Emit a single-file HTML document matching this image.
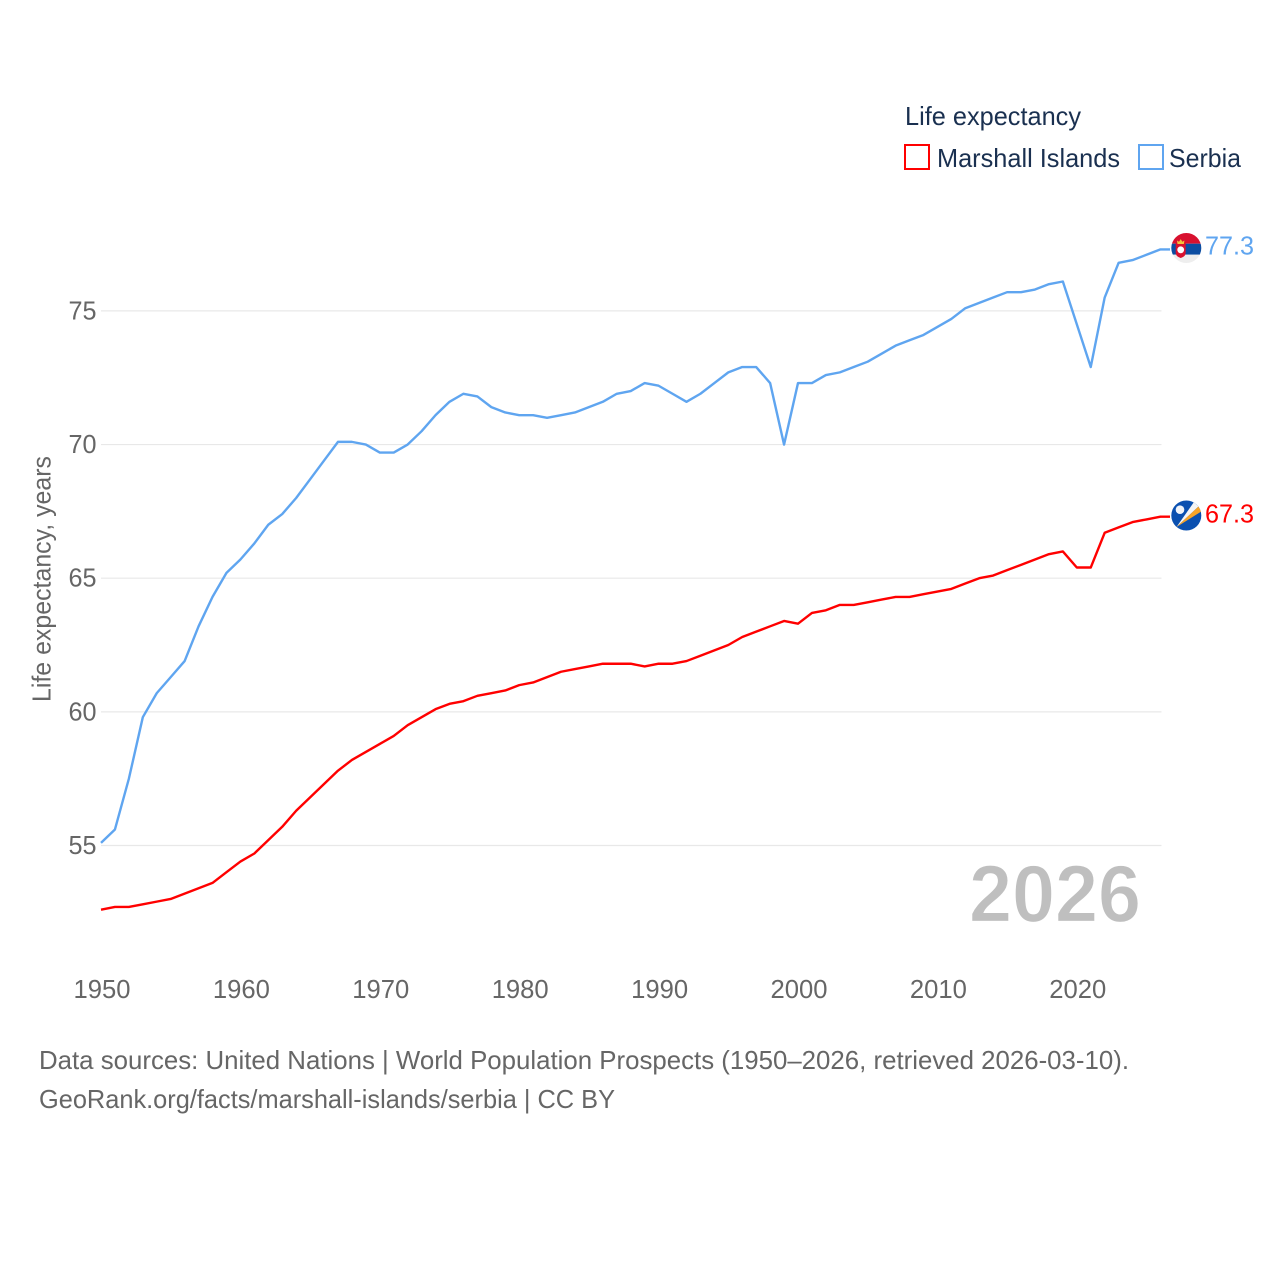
<!DOCTYPE html>
<html lang="en">
<head>
<meta charset="utf-8">
<title>Life expectancy: Marshall Islands and Serbia</title>
<style>
html,body{margin:0;padding:0;background:#fff;width:1280px;height:1280px;overflow:hidden}
svg{display:block}
text{font-family:"Liberation Sans",sans-serif}
.tick{font-size:26px;fill:#666}
.legend{font-size:26px;fill:#1a3050}
.foot{font-size:26px;fill:#666}
</style>
</head>
<body>
<svg id="chart" xmlns="http://www.w3.org/2000/svg" width="1280" height="1280" viewBox="0 0 1280 1280">
  <rect width="1280" height="1280" fill="#fff"/>
  <g id="grid"></g>
  <g id="yticks"></g>
  <g id="xticks"></g>
  <g id="series"></g>

  <text transform="translate(50.5,579) rotate(-90)" text-anchor="middle" font-size="26" fill="#666" textLength="246" lengthAdjust="spacingAndGlyphs">Life expectancy, years</text>
  <text x="969" y="921.5" font-size="81" font-weight="700" fill="#bfbfbf" stroke="#fff" stroke-width="1.2" paint-order="fill" textLength="172" lengthAdjust="spacingAndGlyphs">2026</text>

  <g>
    <text class="legend" x="905" y="125" textLength="176" lengthAdjust="spacingAndGlyphs">Life expectancy</text>
    <rect x="905" y="145" width="24" height="24" fill="#fff" stroke="#ff0000" stroke-width="2"/>
    <text class="legend" x="937" y="167" textLength="183" lengthAdjust="spacingAndGlyphs">Marshall Islands</text>
    <rect x="1139" y="145" width="24" height="24" fill="#fff" stroke="#5fa5f0" stroke-width="2"/>
    <text class="legend" x="1169" y="167" textLength="72" lengthAdjust="spacingAndGlyphs">Serbia</text>
  </g>

  <defs>
    <clipPath id="clip-rs"><circle cx="1186.3" cy="248" r="15"/></clipPath>
    <clipPath id="clip-mh"><circle cx="1186.3" cy="515.5" r="15"/></clipPath>
  </defs>

  <g clip-path="url(#clip-rs)">
    <rect x="1171" y="233" width="31" height="10.7" fill="#d8112f"/>
    <rect x="1171" y="243.7" width="31" height="11" fill="#0c4da2"/>
    <rect x="1171" y="254.7" width="31" height="9" fill="#eeeeee"/>
    <path d="M1175.7 243.5h10v9q0 4-5 5.5q-5-1.5-5-5.5z" fill="#d8112f"/>
    <circle cx="1180.7" cy="249.8" r="3.4" fill="#fff"/>
    <path d="M1177.5 244l-.5-3.5 2 1.2 1.7-2.6 1.7 2.6 2-1.2-.5 3.5z" fill="#f3c33c"/>
  </g>
  <g clip-path="url(#clip-mh)">
    <rect x="1171" y="500" width="31" height="31" fill="#0a50b0"/>
    <polygon points="1176.5,527 1194,502 1198.5,506.5" fill="#f5f5f5"/>
    <polygon points="1176.5,527 1198.5,506.5 1202,511" fill="#f7a428"/>
    <circle cx="1180" cy="509.7" r="4.3" fill="#f0f4fa"/>
  </g>

  <text x="1205" y="254.5" font-size="26" fill="#5fa5f0" textLength="49" lengthAdjust="spacingAndGlyphs">77.3</text>
  <text x="1205" y="522.5" font-size="26" fill="#ff0000" textLength="49" lengthAdjust="spacingAndGlyphs">67.3</text>

  <text class="foot" x="39" y="1069" textLength="1090" lengthAdjust="spacingAndGlyphs">Data sources: United Nations | World Population Prospects (1950–2026, retrieved 2026-03-10).</text>
  <text class="foot" x="39" y="1108" textLength="576" lengthAdjust="spacingAndGlyphs">GeoRank.org/facts/marshall-islands/serbia | CC BY</text>
</svg>
<script>
const firstYear = 1950;
const marshallIslands = [52.6,52.7,52.7,52.8,52.9,53.0,53.2,53.4,53.6,54.0,54.4,54.7,55.2,55.7,56.3,56.8,57.3,57.8,58.2,58.5,58.8,59.1,59.5,59.8,60.1,60.3,60.4,60.6,60.7,60.8,61.0,61.1,61.3,61.5,61.6,61.7,61.8,61.8,61.8,61.7,61.8,61.8,61.9,62.1,62.3,62.5,62.8,63.0,63.2,63.4,63.3,63.7,63.8,64.0,64.0,64.1,64.2,64.3,64.3,64.4,64.5,64.6,64.8,65.0,65.1,65.3,65.5,65.7,65.9,66.0,65.4,65.4,66.7,66.9,67.1,67.2,67.3];
const serbia = [55.1,55.6,57.5,59.8,60.7,61.3,61.9,63.2,64.3,65.2,65.7,66.3,67.0,67.4,68.0,68.7,69.4,70.1,70.1,70.0,69.7,69.7,70.0,70.5,71.1,71.6,71.9,71.8,71.4,71.2,71.1,71.1,71.0,71.1,71.2,71.4,71.6,71.9,72.0,72.3,72.2,71.9,71.6,71.9,72.3,72.7,72.9,72.9,72.3,70.0,72.3,72.3,72.6,72.7,72.9,73.1,73.4,73.7,73.9,74.1,74.4,74.7,75.1,75.3,75.5,75.7,75.7,75.8,76.0,76.1,74.5,72.9,75.5,76.8,76.9,77.1,77.3];
const yTickValues = [55,60,65,70,75];
const xTickValues = [1950,1960,1970,1980,1990,2000,2010,2020];

const NS = 'http://www.w3.org/2000/svg';
const xScale = function (year) { return 101 + (year - 1950) * 13.94; };
const yScale = function (v) { return 845.5 - (v - 55) * 26.73; };

const gridGroup = document.getElementById('grid');
const yGroup = document.getElementById('yticks');
const xGroup = document.getElementById('xticks');
const seriesGroup = document.getElementById('series');

yTickValues.forEach(function (v) {
  const line = document.createElementNS(NS, 'line');
  
  
  line.setAttribute('x1', xScale(1950));
  line.setAttribute('x2', xScale(2026) + 1);
  line.setAttribute('y1', yScale(v));
  line.setAttribute('y2', yScale(v));
  line.setAttribute('stroke', '#e8e8e8');
  line.setAttribute('stroke-width', '1.2');
  gridGroup.appendChild(line);

  const label = document.createElementNS(NS, 'text');
  
  
  label.setAttribute('class', 'tick');
  label.setAttribute('x', 96.5);
  label.setAttribute('y', yScale(v) + 8.5);
  label.setAttribute('text-anchor', 'end');
  label.setAttribute('textLength', '28');
  label.setAttribute('lengthAdjust', 'spacingAndGlyphs');
  label.textContent = v;
  yGroup.appendChild(label);
});

xTickValues.forEach(function (year) {
  const label = document.createElementNS(NS, 'text');
  
  
  label.setAttribute('class', 'tick');
  label.setAttribute('x', xScale(year) + 1);
  label.setAttribute('y', 998);
  label.setAttribute('text-anchor', 'middle');
  label.setAttribute('textLength', '57');
  label.setAttribute('lengthAdjust', 'spacingAndGlyphs');
  label.textContent = year;
  xGroup.appendChild(label);
});

function drawSeries(values, color, name) {
  const pts = values.map(function (v, i) {
    return xScale(firstYear + i).toFixed(2) + ',' + yScale(v).toFixed(2);
  });
  const last = values[values.length - 1];
  pts.push('1170,' + yScale(last).toFixed(2));
  const line = document.createElementNS(NS, 'polyline');
  
  
  line.setAttribute('points', pts.join(' '));
  line.setAttribute('fill', 'none');
  line.setAttribute('stroke', color);
  line.setAttribute('stroke-width', '2.4');
  line.setAttribute('stroke-linejoin', 'round');
  seriesGroup.appendChild(line);
}
drawSeries(serbia, '#5fa5f0', 'serbia-line');
drawSeries(marshallIslands, '#ff0000', 'marshall-islands-line');
</script>
</body>
</html>
